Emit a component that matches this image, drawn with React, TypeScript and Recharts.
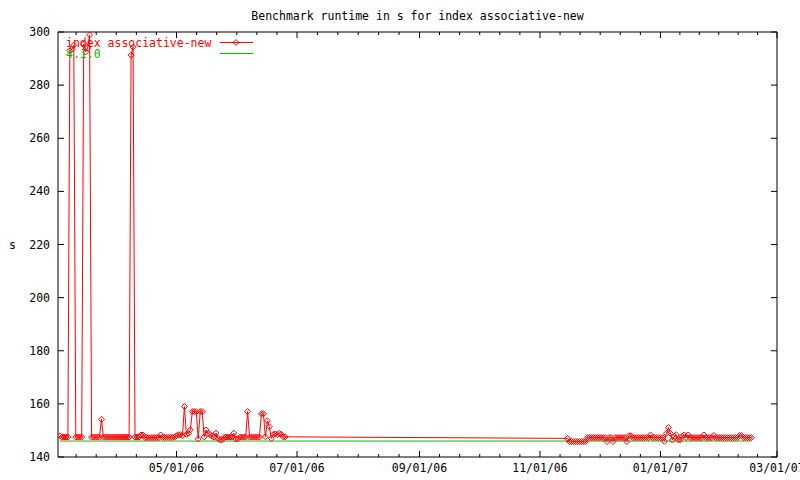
import { LineChart, Line, XAxis, YAxis, Legend } from 'recharts';

const title = 'Benchmark runtime in s for index associative-new';
const seriesName = 'index associative-new';
const baselineName = '4.1.0';
const baselineRuntime = 146;

// daily runs, first block starts 2006-03-03
const springStart = [2006, 2, 3];
const springRuntime = [
  148, 147.5, 147.5, 147.5, 147.5, 293, 293.5, 295, 147.5, 147.5,
  147.5, 147.5, 295.5, 292.5, 294, 298.9, 147.5, 147.5, 147.5, 147.5,
  147.5, 154.2, 147.5, 147.5, 147.5, 147.5, 147.5, 147.5, 147.5, 147.5,
  147.5, 147.5, 147.5, 147.5, 147.5, 147.5, 291.3, 294.3, 147.5, 147.5,
  147.5, 148.3, 148.3, 147.3, 147.3, 147.3, 147.3, 147.3, 147.3, 147.3,
  147.3, 148.3, 147.4, 147.4, 147.4, 147.4, 147.4, 147.4, 147.5, 148,
  148.4, 148.4, 148, 159, 148.5, 148.9, 150.2, 157.1, 157.1, 157.1,
  146.8, 157.1, 157.1, 147.6, 150.2, 148.8, 148.5, 147.8, 147.5, 149,
  147, 146.5, 146.5, 147.3, 147.5, 147.5, 147.5, 147.5, 149, 146.8,
  146.8, 147.5, 147.5, 147.5, 147.5, 157.1, 147.5, 147.5, 147.5, 147.5,
  147.5, 147.5, 156.3, 156.3, 147.6, 153.6, 151.4, 147, 148.5, 148.7,
  148.4, 148.9, 148.5, 147.6, 147.6,
];

// second block starts 2006-11-15
const winterStart = [2006, 10, 15];
const winterRuntime = [
  147, 145.8, 145.8, 145.8, 145.8, 145.8, 145.8, 145.8, 145.8, 145.8,
  147.3, 147.3, 147.3, 147.3, 147.3, 147.3, 147.3, 147.3, 147.3, 147.3,
  145.8, 147.3, 147.3, 145.8, 147.3, 147.3, 147.3, 147.3, 147.3, 147.3,
  145.8, 148, 148, 147.3, 147.3, 147.3, 147.3, 147.3, 147.3, 147.3,
  147.3, 147.3, 148.3, 147.3, 147.3, 147.3, 147.3, 147.3, 147.3, 145.9,
  148.9, 151.1, 148.9, 146.4, 147.8, 148.4, 146.5, 146.5, 147.8, 148.3,
  147.3, 148.3, 147.3, 147.3, 147.3, 147.3, 147.3, 147.3, 147.3, 148.3,
  147.3, 147.3, 147.3, 147.3, 148.1, 147.3, 147.3, 147.3, 147.3, 147.3,
  147.3, 147.3, 147.3, 147.3, 147.3, 147.3, 147.3, 148.1, 148.1, 147.3,
  147.3, 147.3, 147.3, 147.3,
];

const xDomain = [Date.UTC(2006, 2, 2), Date.UTC(2007, 2, 1)];
const majorTickDates = [
  [2006, 2, 1], [2006, 4, 1], [2006, 6, 1], [2006, 8, 1], [2006, 10, 1], [2007, 0, 1], [2007, 2, 1],
];
const yTicks = [140, 160, 180, 200, 220, 240, 260, 280, 300];

const RED = '#ff0000';
const GREEN = '#00c000';
const FONT = '"DejaVu Sans Mono", monospace';
const FS = 11.5;

const toRows = (start: number[], values: number[]) =>
  values.map((v, i) => ({
    t: Date.UTC(start[0], start[1], start[2] + i),
    runtime: v,
    ref: baselineRuntime,
  }));

const data = [...toRows(springStart, springRuntime), ...toRows(winterStart, winterRuntime)];

const majors = majorTickDates.map(([y, m, d]) => Date.UTC(y, m, d));
const minors: number[] = [];
for (let i = 0; i < majors.length - 1; i++) {
  const step = (majors[i + 1] - majors[i]) / 6;
  for (let k = 1; k < 6; k++) minors.push(majors[i] + k * step);
}
const xTicks = [...majors, ...minors]
  .filter((t) => t >= xDomain[0] && t <= xDomain[1])
  .sort((a, b) => a - b);
const majorSet = new Set(majors);

const pad = (n: number) => String(n).padStart(2, '0');
const fmtDate = (t: number) => {
  const d = new Date(t);
  return `${pad(d.getUTCMonth() + 1)}/${pad(d.getUTCDate())}/${pad(d.getUTCFullYear() % 100)}`;
};

const BottomTick = ({ x, y, payload }: any) => {
  const major = majorSet.has(payload.value);
  return (
    <g>
      <line x1={x} x2={x} y1={y} y2={y - (major ? 6 : 3)} stroke="#000" />
      {major && (
        <text x={x} y={y + 15} textAnchor="middle" fontFamily={FONT} fontSize={FS} fill="#000">
          {fmtDate(payload.value)}
        </text>
      )}
    </g>
  );
};

const TopTick = ({ x, y, payload }: any) => {
  const major = majorSet.has(payload.value);
  return <line x1={x} x2={x} y1={y} y2={y + (major ? 6 : 3)} stroke="#000" />;
};

const LeftTick = ({ x, y, payload }: any) => (
  <g>
    <line x1={x} x2={x + 6} y1={y} y2={y} stroke="#000" />
    <text x={x - 8} y={y + 4} textAnchor="end" fontFamily={FONT} fontSize={FS} fill="#000">
      {payload.value}
    </text>
  </g>
);

const RightTick = ({ x, y }: any) => <line x1={x} x2={x - 6} y1={y} y2={y} stroke="#000" />;

const Diamond = (props: any) => {
  const { cx, cy, index } = props;
  if (cx == null || cy == null) return <g key={index} />;
  return (
    <path
      key={index}
      d={`M${cx},${cy - 3}L${cx + 3},${cy}L${cx},${cy + 3}L${cx - 3},${cy}Z`}
      fill="none"
      stroke={RED}
    />
  );
};

const legendRows = [
  { name: seriesName, color: RED, marker: true },
  { name: baselineName, color: GREEN, marker: false },
];

const KeyBox = () => (
  <svg width={200} height={26} style={{ display: 'block' }}>
    {legendRows.map((r, i) => {
      const cy = 6.5 + i * 11;
      return (
        <g key={r.name}>
          <text x={0} y={cy + 4} fontFamily={FONT} fontSize={FS} fill={r.color}>
            {r.name}
          </text>
          <line x1={154} x2={187} y1={cy} y2={cy} stroke={r.color} />
          {r.marker && (
            <path d={`M170,${cy - 3}L173,${cy}L170,${cy + 3}L167,${cy}Z`} fill="none" stroke={r.color} />
          )}
        </g>
      );
    })}
  </svg>
);

const App = () => (
  <div style={{ position: 'absolute', left: 0, top: 0, width: 800, height: 480, background: '#fff' }}>
    <div
      style={{
        position: 'absolute',
        left: 58,
        width: 719,
        top: 11,
        textAlign: 'center',
        fontFamily: FONT,
        fontSize: FS,
        lineHeight: 1,
        color: '#000',
      }}
    >
      {title}
    </div>
    <LineChart width={800} height={480} data={data} margin={{ top: 0, right: 0, bottom: 0, left: 0 }}>
      <XAxis
        xAxisId="bottom"
        dataKey="t"
        type="number"
        scale="time"
        domain={xDomain}
        ticks={xTicks}
        interval={0}
        height={23}
        tickSize={0}
        tickMargin={0}
        tickLine={false}
        axisLine={{ stroke: '#000' }}
        tick={<BottomTick />}
        allowDataOverflow
      />
      <XAxis
        xAxisId="top"
        orientation="top"
        dataKey="t"
        type="number"
        scale="time"
        domain={xDomain}
        ticks={xTicks}
        interval={0}
        height={32}
        tickSize={0}
        tickMargin={0}
        tickLine={false}
        axisLine={{ stroke: '#000' }}
        tick={<TopTick />}
        allowDataOverflow
      />
      <YAxis
        yAxisId="left"
        domain={[140, 300]}
        ticks={yTicks}
        interval={0}
        width={58}
        tickSize={0}
        tickMargin={0}
        tickLine={false}
        axisLine={{ stroke: '#000' }}
        tick={<LeftTick />}
        label={{ value: 's', position: 'insideLeft', offset: 9, fontFamily: FONT, fontSize: FS, fill: '#000' }}
        allowDataOverflow
      />
      <YAxis
        yAxisId="right"
        orientation="right"
        domain={[140, 300]}
        ticks={yTicks}
        interval={0}
        width={23}
        tickSize={0}
        tickMargin={0}
        tickLine={false}
        axisLine={{ stroke: '#000' }}
        tick={<RightTick />}
        allowDataOverflow
      />
      <Legend
        verticalAlign="middle"
        align="center"
        layout="horizontal"
        content={<KeyBox />}
        wrapperStyle={{ position: 'absolute', left: 66, top: 36, width: 200, height: 26 }}
      />
      <Line
        xAxisId="bottom"
        yAxisId="left"
        type="linear"
        dataKey="runtime"
        name={seriesName}
        stroke={RED}
        strokeWidth={1}
        dot={Diamond}
        activeDot={false}
        isAnimationActive={false}
      />
      <Line
        xAxisId="bottom"
        yAxisId="left"
        type="linear"
        dataKey="ref"
        name={baselineName}
        stroke={GREEN}
        strokeWidth={1}
        dot={false}
        activeDot={false}
        isAnimationActive={false}
      />
    </LineChart>
  </div>
);

export default App;
